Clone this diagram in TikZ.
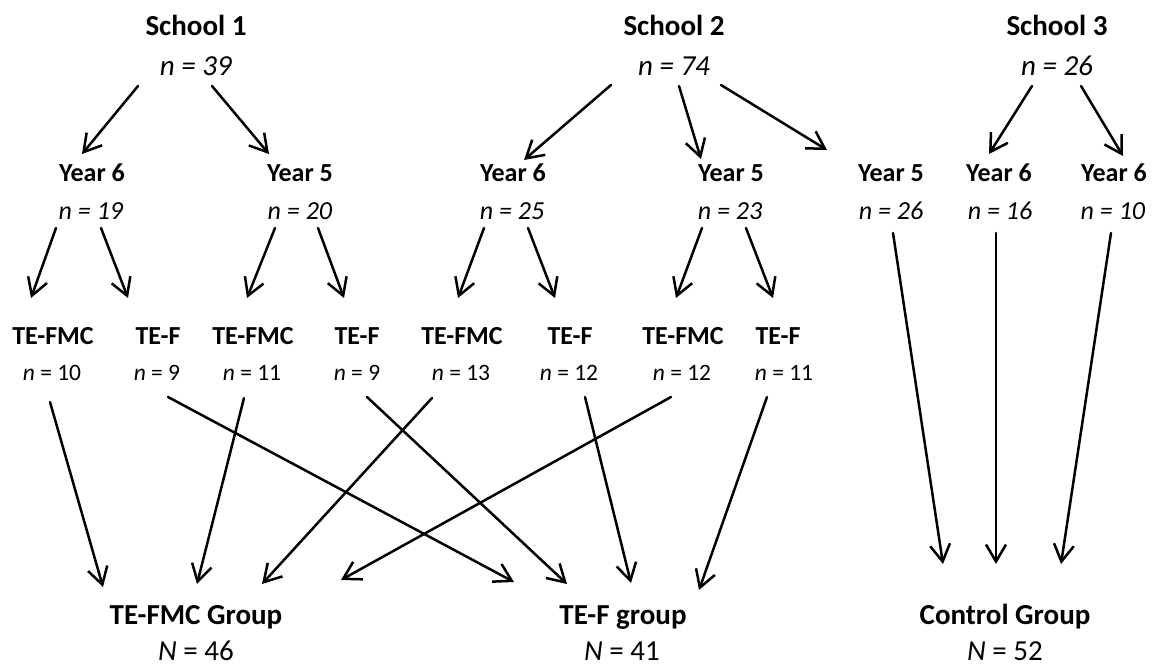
\documentclass[tikz,border=0pt]{standalone}
\usepackage{fontspec}
\setmainfont{Carlito}
\usetikzlibrary{arrows.meta}
\begin{document}
\begin{tikzpicture}[x=1pt,y=-1pt,
  every node/.style={inner sep=0pt,anchor=base},
  big/.style={font=\fontsize{29}{34}\selectfont},
  mid/.style={font=\fontsize{26}{31}\selectfont},
  small/.style={font=\fontsize{23.5}{28}\selectfont},
  arr/.style={-{Straight Barb[length=17pt,width=20pt]},line width=2.5pt,line cap=round}]
\useasboundingbox (0,0) rectangle (1152,668);
% schools
\node[big] (s1) at (196,36) {\textbf{School 1}};
\node[big] (s1n) at (196,76) {\textit{n = 39}};
\node[big] (s2) at (674,36) {\textbf{School 2}};
\node[big] (s2n) at (674,76) {\textit{n = 74}};
\node[big] (s3) at (1057,36) {\textbf{School 3}};
\node[big] (s3n) at (1057,76) {\textit{n = 26}};
% years
\node[mid] (y1a) at (92,182) {\textbf{Year 6}};
\node[mid] (y1an) at (91,220) {\textit{n = 19}};
\node[mid] (y1b) at (300,182) {\textbf{Year 5}};
\node[mid] (y1bn) at (300,220) {\textit{n = 20}};
\node[mid] (y2a) at (513,182) {\textbf{Year 6}};
\node[mid] (y2an) at (512,220) {\textit{n = 25}};
\node[mid] (y2b) at (731,182) {\textbf{Year 5}};
\node[mid] (y2bn) at (730,220) {\textit{n = 23}};
\node[mid] (y3a) at (891,182) {\textbf{Year 5}};
\node[mid] (y3an) at (891,220) {\textit{n = 26}};
\node[mid] (y3b) at (999,182) {\textbf{Year 6}};
\node[mid] (y3bn) at (1000,220) {\textit{n = 16}};
\node[mid] (y3c) at (1114,182) {\textbf{Year 6}};
\node[mid] (y3cn) at (1113,220) {\textit{n = 10}};
% treatment subgroups
\node[mid] (t1) at (53,345) {\textbf{TE-FMC}};
\node[small] (t1n) at (52,381) {\textit{n} = 10};
\node[mid] (t2) at (158,345) {\textbf{TE-F}};
\node[small] (t2n) at (157,381) {\textit{n} = 9};
\node[mid] (t3) at (253,345) {\textbf{TE-FMC}};
\node[small] (t3n) at (252,381) {\textit{n} = 11};
\node[mid] (t4) at (357,345) {\textbf{TE-F}};
\node[small] (t4n) at (357,381) {\textit{n} = 9};
\node[mid] (t5) at (462,345) {\textbf{TE-FMC}};
\node[small] (t5n) at (461,381) {\textit{n} = 13};
\node[mid] (t6) at (570,345) {\textbf{TE-F}};
\node[small] (t6n) at (569,381) {\textit{n} = 12};
\node[mid] (t7) at (683,345) {\textbf{TE-FMC}};
\node[small] (t7n) at (682,381) {\textit{n} = 12};
\node[mid] (t8) at (778,345) {\textbf{TE-F}};
\node[small] (t8n) at (784,381) {\textit{n} = 11};
% groups
\node[big] (g1) at (196,624) {\textbf{TE-FMC Group}};
\node[big] (g1n) at (196,660) {\textit{N} = 46};
\node[big] (g2) at (623,624) {\textbf{TE-F group}};
\node[big] (g2n) at (622,660) {\textit{N} = 41};
\node[big] (g3) at (1005,624) {\textbf{Control Group}};
\node[big] (g3n) at (1005,660) {\textit{N} = 52};
% school -> year
\draw[arr] ([shift={(-58,10)}]s1n.base) -- ([shift={(-10,-28)}]y1a.base);
\draw[arr] ([shift={(16,10)}]s1n.base) -- ([shift={(-31,-28)}]y1b.base);
\draw[arr] ([shift={(-63,9)}]s2n.base) -- ([shift={(11,-22)}]y2a.base);
\draw[arr] ([shift={(5,10)}]s2n.base) -- ([shift={(-30,-23)}]y2b.base);
\draw[arr] ([shift={(47,9)}]s2n.base) -- ([shift={(-64,-32)}]y3a.base);
\draw[arr] ([shift={(-25,10)}]s3n.base) -- ([shift={(-10,-28)}]y3b.base);
\draw[arr] ([shift={(24,10)}]s3n.base) -- ([shift={(9,-26)}]y3c.base);
% year -> subgroup
\draw[arr] ([shift={(-35,8)}]y1an.base) -- ([shift={(-22,-47)}]t1.base);
\draw[arr] ([shift={(10,8)}]y1an.base) -- ([shift={(-30,-47)}]t2.base);
\draw[arr] ([shift={(-25,8)}]y1bn.base) -- ([shift={(-6,-47)}]t3.base);
\draw[arr] ([shift={(18,8)}]y1bn.base) -- ([shift={(-13,-47)}]t4.base);
\draw[arr] ([shift={(-28,8)}]y2an.base) -- ([shift={(-4,-47)}]t5.base);
\draw[arr] ([shift={(16,8)}]y2an.base) -- ([shift={(-15,-47)}]t6.base);
\draw[arr] ([shift={(-28,8)}]y2bn.base) -- ([shift={(-7,-47)}]t7.base);
\draw[arr] ([shift={(16,8)}]y2bn.base) -- ([shift={(-5,-47)}]t8.base);
% subgroup -> group
\draw[arr] ([shift={(-2,21)}]t1n.base) -- ([shift={(-93,-37)}]g1.base);
\draw[arr] ([shift={(11,16)}]t2n.base) -- ([shift={(-109,-42)}]g2.base);
\draw[arr] ([shift={(-8,17)}]t3n.base) -- ([shift={(1,-40)}]g1.base);
\draw[arr] ([shift={(10,16)}]t4n.base) -- ([shift={(-56,-40)}]g2.base);
\draw[arr] ([shift={(-29,17)}]t5n.base) -- ([shift={(66,-40)}]g1.base);
\draw[arr] ([shift={(16,16)}]t6n.base) -- ([shift={(8,-41)}]g2.base);
\draw[arr] ([shift={(-11,16)}]t7n.base) -- ([shift={(145,-44)}]g1.base);
\draw[arr] ([shift={(-17,16)}]t8n.base) -- ([shift={(76,-34)}]g2.base);
% control
\draw[arr] ([shift={(2,13)}]y3an.base) -- ([shift={(-62,-60)}]g3.base);
\draw[arr] ([shift={(-4,13)}]y3bn.base) -- ([shift={(-9,-60)}]g3.base);
\draw[arr] ([shift={(-2,13)}]y3cn.base) -- ([shift={(56,-60)}]g3.base);
\end{tikzpicture}
\end{document}
